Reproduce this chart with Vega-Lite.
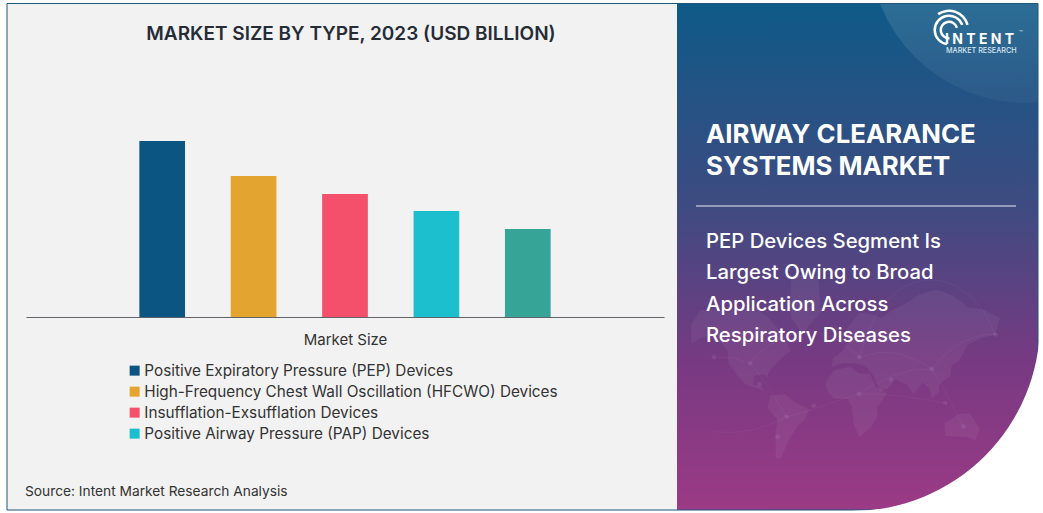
{
"$schema":"https://vega.github.io/schema/vega-lite/v6.json",
"width":1043,"height":513,"padding":0,"autosize":{"type":"none"},"background":"#ffffff",
"config":{"view":{"stroke":null},"axis":{"grid":false},"font":"Inter"},
"resolve":{"scale":{"x":"independent","y":"independent","color":"independent"},"axis":{"x":"independent","y":"independent"}},
"layer":[
{"data":{"values":[{"panel":"report frame"}]},"mark":{"type":"rect","fill":"#f2f2f2"},
 "encoding":{"x":{"datum":7,"type":"quantitative","scale":{"domain":[0,1043],"range":[0,1043]},"axis":null},"x2":{"datum":1038},"y":{"datum":3,"type":"quantitative","scale":{"domain":[0,513],"range":[0,513]},"axis":null},"y2":{"datum":510}}},
{"data":{"values":[{"panel":"summary"}]},"mark":{"type":"rect","fill":{"gradient":"linear","x1":0,"y1":0,"x2":0,"y2":1,"stops":[{"offset":0,"color":"#0e5a87"},{"offset":0.4,"color":"#3e4b81"},{"offset":0.7,"color":"#763a82"},{"offset":1,"color":"#9c3a85"}]}},
 "encoding":{"x":{"datum":677,"type":"quantitative","scale":{"domain":[0,1043],"range":[0,1043]},"axis":null},"x2":{"datum":1038},"y":{"datum":3,"type":"quantitative","scale":{"domain":[0,513],"range":[0,513]},"axis":null},"y2":{"datum":510}}},
{"data":{"values":[{"shape":"top sheen"}]},"mark":{"type":"arc","innerRadius":0,"outerRadius":157,"theta":0,"theta2":6.2832,"fill":{"gradient":"linear","x1":0,"y1":0,"x2":0,"y2":1,"stops":[{"offset":0.68,"color":"rgba(255,255,255,0.12)"},{"offset":1,"color":"rgba(255,255,255,0.035)"}]}},
 "encoding":{"x":{"datum":1026,"type":"quantitative","scale":{"domain":[0,1043],"range":[0,1043]},"axis":null},"y":{"datum":-54,"type":"quantitative","scale":{"domain":[0,513],"range":[0,513]},"axis":null}}},
{"data":{"values":[{"shape":"top margin"}]},"mark":{"type":"rect","fill":"#ffffff"},
 "encoding":{"x":{"datum":0,"type":"quantitative","scale":{"domain":[0,1043],"range":[0,1043]},"axis":null},"x2":{"datum":1043},"y":{"datum":0,"type":"quantitative","scale":{"domain":[0,513],"range":[0,513]},"axis":null},"y2":{"datum":3}}},
{"data":{"values":[{"shape":"right margin"}]},"mark":{"type":"rect","fill":"#ffffff"},
 "encoding":{"x":{"datum":1038,"type":"quantitative","scale":{"domain":[0,1043],"range":[0,1043]},"axis":null},"x2":{"datum":1043},"y":{"datum":0,"type":"quantitative","scale":{"domain":[0,513],"range":[0,513]},"axis":null},"y2":{"datum":513}}},
{"data":{"values":[{"panel":"outline"}]},"mark":{"type":"rect","fillOpacity":0,"stroke":"#1f5878","strokeWidth":1},
 "encoding":{"x":{"datum":7,"type":"quantitative","scale":{"domain":[0,1043],"range":[0,1043]},"axis":null},"x2":{"datum":1038},"y":{"datum":3.5,"type":"quantitative","scale":{"domain":[0,513],"range":[0,513]},"axis":null},"y2":{"datum":510}}},
{"data":{"values":[
 {"type":"Feature","properties":{"n":"North America"},"geometry":{"type":"Polygon","coordinates":[[[-165,65],[-155,71],[-125,70],[-95,72],[-80,68],[-62,58],[-55,50],[-66,44],[-75,37],[-81,30],[-80,26],[-84,30],[-95,29],[-97,20],[-88,18],[-83,10],[-78,8],[-90,15],[-105,20],[-115,30],[-124,40],[-125,50],[-140,60],[-165,55],[-165,65]]]}},
 {"type":"Feature","properties":{"n":"Greenland"},"geometry":{"type":"Polygon","coordinates":[[[-55,80],[-25,80],[-22,70],[-42,60],[-55,68],[-55,80]]]}},
 {"type":"Feature","properties":{"n":"South America"},"geometry":{"type":"Polygon","coordinates":[[[-78,8],[-62,10],[-50,0],[-35,-7],[-39,-17],[-48,-25],[-58,-38],[-66,-52],[-72,-52],[-72,-30],[-70,-18],[-81,-5],[-78,8]]]}},
 {"type":"Feature","properties":{"n":"Africa"},"geometry":{"type":"Polygon","coordinates":[[[-16,15],[-17,22],[-8,34],[10,37],[20,31],[32,31],[38,18],[51,11],[40,-5],[40,-15],[33,-26],[20,-35],[14,-22],[12,-5],[8,4],[-8,5],[-16,15]]]}},
 {"type":"Feature","properties":{"n":"Eurasia"},"geometry":{"type":"Polygon","coordinates":[[[-10,37],[-9,44],[2,50],[8,56],[5,62],[20,70],[45,68],[70,73],[105,77],[140,72],[175,68],[170,60],[155,58],[140,54],[130,42],[122,38],[120,28],[108,20],[108,12],[100,5],[97,16],[90,22],[80,10],[72,20],[60,25],[52,16],[43,13],[35,30],[26,38],[15,40],[2,40],[-10,37]]]}},
 {"type":"Feature","properties":{"n":"Australia"},"geometry":{"type":"Polygon","coordinates":[[[114,-22],[130,-12],[142,-11],[153,-27],[148,-38],[138,-35],[115,-34],[114,-22]]]}}
 ]},
 "mark":{"type":"geoshape","fill":"#ffffff","fillOpacity":0.05,"stroke":null},
 "projection":{"type":"mercator","scale":52,"translate":[841,403]}},
{"data":{"values":[
 {"type":"Feature","properties":{"n":"links"},"geometry":{"type":"MultiLineString","coordinates":[[[-100,40],[-60,-15]],[[-100,40],[20,45]],[[-60,-15],[20,10]],[[20,45],[100,35]],[[20,10],[100,35]],[[100,35],[135,-25]],[[20,10],[115,0]],[[-140,45],[-100,40]],[[100,35],[170,60]],[[20,45],[170,60]],[[-60,-15],[-140,-30]]]}}
 ]},
 "mark":{"type":"geoshape","filled":false,"stroke":"#ffffff","strokeOpacity":0.07,"strokeWidth":0.6},
 "projection":{"type":"mercator","scale":52,"translate":[841,403]}},
{"data":{"values":[{"lon":-100,"lat":40},{"lon":-60,"lat":-15},{"lon":20,"lat":45},{"lon":20,"lat":10},{"lon":100,"lat":35},{"lon":135,"lat":-25},{"lon":115,"lat":0},{"lon":-140,"lat":45},{"lon":170,"lat":60},{"lon":-90,"lat":20},{"lon":-30,"lat":-3},{"lon":-70,"lat":-35},{"lon":55,"lat":25}]},
 "mark":{"type":"circle","size":22,"color":"#ffffff","opacity":0.08},
 "projection":{"type":"mercator","scale":52,"translate":[841,403]},
 "encoding":{"longitude":{"field":"lon","type":"quantitative"},"latitude":{"field":"lat","type":"quantitative"}}},
{"data":{"values":[{"shape":"bottom right cut"}]},"mark":{"type":"arc","innerRadius":188,"outerRadius":280,"theta":1.5708,"theta2":3.1416,"fill":"#ffffff"},
 "encoding":{"x":{"datum":852,"type":"quantitative","scale":{"domain":[0,1043],"range":[0,1043]},"axis":null},"y":{"datum":323,"type":"quantitative","scale":{"domain":[0,513],"range":[0,513]},"axis":null}}},
{"data":{"values":[
 {"type":"Positive Expiratory Pressure (PEP) Devices","size":8.8},
 {"type":"High-Frequency Chest Wall Oscillation (HFCWO) Devices","size":7.05},
 {"type":"Insufflation-Exsufflation Devices","size":6.15},
 {"type":"Positive Airway Pressure (PAP) Devices","size":5.3},
 {"type":"Other Devices","size":4.4}]},
 "mark":{"type":"bar"},
 "encoding":{
  "x":{"field":"type","type":"nominal","sort":null,"scale":{"type":"band","domain":[" ","Positive Expiratory Pressure (PEP) Devices","High-Frequency Chest Wall Oscillation (HFCWO) Devices","Insufflation-Exsufflation Devices","Positive Airway Pressure (PAP) Devices","Other Devices","  "],"range":[26,664],"paddingInner":0.5,"paddingOuter":0.24},
   "axis":{"title":"Market Size","labels":false,"ticks":false,"domain":true,"domainColor":"#5f6368","domainWidth":1,"offset":-196,"titlePadding":15,"titleFont":"Inter","titleFontSize":15,"titleFontWeight":400,"titleColor":"#333333","zindex":1}},
  "y":{"field":"size","type":"quantitative","scale":{"domain":[0,10],"range":[317,117],"nice":false},"axis":null},
  "color":{"field":"type","type":"nominal","sort":null,
   "scale":{"domain":["Positive Expiratory Pressure (PEP) Devices","High-Frequency Chest Wall Oscillation (HFCWO) Devices","Insufflation-Exsufflation Devices","Positive Airway Pressure (PAP) Devices","Other Devices"],"range":["#0b5583","#e3a52f","#f4506b","#1cbfcd","#36a597"]},
   "legend":{"orient":"none","legendX":127,"legendY":363,"title":null,"values":["Positive Expiratory Pressure (PEP) Devices","High-Frequency Chest Wall Oscillation (HFCWO) Devices","Insufflation-Exsufflation Devices","Positive Airway Pressure (PAP) Devices"],"symbolType":"square","symbolSize":100,"symbolStrokeWidth":0,"labelFont":"Inter","labelFontSize":15.3,"labelColor":"#333333","labelOffset":2,"rowPadding":5,"labelLimit":500}}}},
{"data":{"values":[{"t":"MARKET SIZE BY TYPE, 2023  (USD BILLION)"}]},"mark":{"type":"text","align":"center","baseline":"middle","font":"Inter","fontSize":19,"fontWeight":600,"color":"#262c36"},
 "encoding":{"text":{"field":"t"},"x":{"datum":351,"type":"quantitative","scale":{"domain":[0,1043],"range":[0,1043]},"axis":null},"y":{"datum":34,"type":"quantitative","scale":{"domain":[0,513],"range":[0,513]},"axis":null}}},
{"data":{"values":[{"t":"Source: Intent Market Research Analysis"}]},"mark":{"type":"text","align":"left","baseline":"middle","font":"Inter","fontSize":13.75,"color":"#333333"},
 "encoding":{"text":{"field":"t"},"x":{"datum":25,"type":"quantitative","scale":{"domain":[0,1043],"range":[0,1043]},"axis":null},"y":{"datum":491.5,"type":"quantitative","scale":{"domain":[0,513],"range":[0,513]},"axis":null}}},
{"data":{"values":[{"t":"AIRWAY CLEARANCE"},{"t":"SYSTEMS MARKET"}]},"mark":{"type":"text","align":"left","baseline":"middle","font":"Inter","fontSize":25.8,"fontWeight":700,"color":"#ffffff"},
 "encoding":{"text":{"field":"t"},"x":{"datum":706,"type":"quantitative","scale":{"domain":[0,1043],"range":[0,1043]},"axis":null},"y":{"field":"t","type":"nominal","sort":null,"scale":{"type":"point","range":[135,167],"padding":0},"axis":null}}},
{"data":{"values":[{"r":"divider"}]},"mark":{"type":"rule","color":"#ffffff","strokeWidth":1,"opacity":0.9},
 "encoding":{"x":{"datum":696,"type":"quantitative","scale":{"domain":[0,1043],"range":[0,1043]},"axis":null},"x2":{"datum":1016},"y":{"datum":206,"type":"quantitative","scale":{"domain":[0,513],"range":[0,513]},"axis":null}}},
{"data":{"values":[{"t":"PEP Devices Segment Is"},{"t":"Largest Owing to Broad"},{"t":"Application Across"},{"t":"Respiratory Diseases"}]},"mark":{"type":"text","align":"left","baseline":"middle","font":"Inter","fontSize":20.3,"fontWeight":500,"color":"#ffffff"},
 "encoding":{"text":{"field":"t"},"x":{"datum":706,"type":"quantitative","scale":{"domain":[0,1043],"range":[0,1043]},"axis":null},"y":{"field":"t","type":"nominal","sort":null,"scale":{"type":"point","range":[242,336],"padding":0},"axis":null}}},
{"data":{"values":[{"shape":"logo ring 1"}]},"mark":{"type":"arc","innerRadius":7,"outerRadius":9.5,"theta":-3.2,"theta2":1.3,"fill":"#ffffff"},
 "encoding":{"x":{"datum":949,"type":"quantitative","scale":{"domain":[0,1043],"range":[0,1043]},"axis":null},"y":{"datum":30,"type":"quantitative","scale":{"domain":[0,513],"range":[0,513]},"axis":null}}},
{"data":{"values":[{"shape":"logo ring 2"}]},"mark":{"type":"arc","innerRadius":13,"outerRadius":15.5,"theta":-3.0,"theta2":1.2,"fill":"#ffffff"},
 "encoding":{"x":{"datum":949,"type":"quantitative","scale":{"domain":[0,1043],"range":[0,1043]},"axis":null},"y":{"datum":30,"type":"quantitative","scale":{"domain":[0,513],"range":[0,513]},"axis":null}}},
{"data":{"values":[{"shape":"logo ring 3"}]},"mark":{"type":"arc","innerRadius":18,"outerRadius":20.5,"theta":-0.6,"theta2":1.3,"fill":"#ffffff"},
 "encoding":{"x":{"datum":949,"type":"quantitative","scale":{"domain":[0,1043],"range":[0,1043]},"axis":null},"y":{"datum":30,"type":"quantitative","scale":{"domain":[0,513],"range":[0,513]},"axis":null}}},
{"data":{"values":[{"t":"I N T E N T"}]},"mark":{"type":"text","align":"left","baseline":"middle","font":"Inter","fontSize":14,"fontWeight":700,"color":"#ffffff"},
 "encoding":{"text":{"field":"t"},"x":{"datum":945,"type":"quantitative","scale":{"domain":[0,1043],"range":[0,1043]},"axis":null},"y":{"datum":40,"type":"quantitative","scale":{"domain":[0,513],"range":[0,513]},"axis":null}}},
{"data":{"values":[{"t":"MARKET RESEARCH"}]},"mark":{"type":"text","align":"left","baseline":"middle","font":"Inter","fontSize":7.2,"fontWeight":500,"color":"#d8e6f0"},
 "encoding":{"text":{"field":"t"},"x":{"datum":946,"type":"quantitative","scale":{"domain":[0,1043],"range":[0,1043]},"axis":null},"y":{"datum":50.5,"type":"quantitative","scale":{"domain":[0,513],"range":[0,513]},"axis":null}}},
{"data":{"values":[{"t":"™"}]},"mark":{"type":"text","align":"left","baseline":"middle","font":"Inter","fontSize":6,"color":"#d8e6f0"},
 "encoding":{"text":{"field":"t"},"x":{"datum":1019,"type":"quantitative","scale":{"domain":[0,1043],"range":[0,1043]},"axis":null},"y":{"datum":33,"type":"quantitative","scale":{"domain":[0,513],"range":[0,513]},"axis":null}}}
]
}
